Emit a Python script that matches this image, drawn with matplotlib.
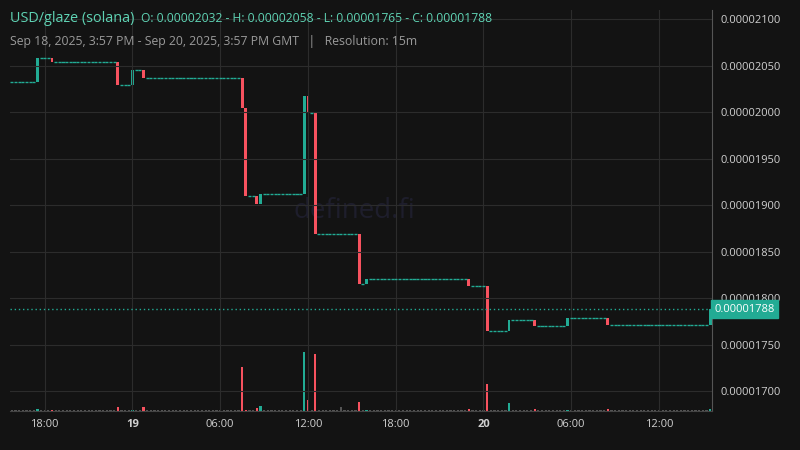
import matplotlib
matplotlib.use("Agg")
import matplotlib.pyplot as plt

plt.rcParams['font.family'] = ['Open Sans', 'DejaVu Sans']

N = 192
start_price = 2032e-8
# change events: candle index, open, close (other candles are flat at previous close)
ev_idx   = [7, 11, 29, 33, 36, 63, 64, 67, 68, 80, 81, 83, 95, 97, 125, 130, 136, 143, 152, 163, 191]
ev_open  = [2032, 2058, 2054, 2029, 2045, 2037, 2004, 1910, 1901, 1912, 2017, 1999, 1869, 1815, 1820, 1813, 1765, 1776, 1770, 1778, 1771]
ev_close = [2058, 2054, 2029, 2045, 2037, 2004, 1910, 1901, 1912, 2017, 1999, 1869, 1815, 1820, 1813, 1765, 1776, 1770, 1778, 1771, 1788]
vol_idx = [7, 29, 36, 63, 67, 68, 80, 81, 83, 90, 95, 125, 130, 136, 143, 163, 191]
vol_val = [3, 6, 6, 75, 5, 8, 100, 18, 97, 6, 15, 4, 45, 13, 3, 3, 3]
xtick_idx = [9, 33, 57, 81, 105, 129, 153, 177]
xtick_lab = ["18:00", "19", "06:00", "12:00", "18:00", "20", "06:00", "12:00"]
ytick_vals = [1700, 1750, 1800, 1850, 1900, 1950, 2000, 2050, 2100]

BG = "#131313"
UP = "#22ab94"; DN = "#f7525f"

opens, closes = [], []
p = start_price / 1e-8
ev = dict(zip(ev_idx, zip(ev_open, ev_close)))
for i in range(N):
    if i in ev:
        o, c = ev[i]
    else:
        o, c = p, p
    opens.append(o); closes.append(c); p = c
vols = [1.0] * N
for i, v in zip(vol_idx, vol_val):
    vols[i] = v

fig = plt.figure(figsize=(8, 4.5), dpi=100, facecolor=BG)
ax = fig.add_axes([10/800, 39/450, 702/800, 401/450], facecolor=BG)
axv = ax.twinx()
axv.set_zorder(0); ax.set_zorder(1); ax.patch.set_alpha(0)
axv.set_facecolor(BG)

s = 1e-8
for i in range(N):
    o, c = opens[i] * s, closes[i] * s
    col = UP if c >= o else DN
    if o == c:
        ax.hlines(o, i - 0.42, i + 0.42, color=UP, lw=1)
    else:
        ax.bar(i, c - o, bottom=o, width=0.75, color=col, lw=0)
for i in range(N):
    col = UP if closes[i] >= opens[i] else DN
    if closes[i] == opens[i]:
        col = "#555555"
    axv.bar(i, vols[i], width=0.6, color=col, lw=0)

ax.set_xlim(-0.5, 191.5)
ax.set_ylim(1678.5e-8, 2109.7e-8)
axv.set_ylim(0, 100 * 401 / 59)
axv.set_yticks([])
ax.set_xticks(xtick_idx)
ax.set_xticklabels(xtick_lab)
for t, l in zip(ax.get_xticklabels(), xtick_lab):
    t.set_fontweight("bold" if len(l) == 2 else "normal")
ax.yaxis.tick_right()
ax.set_yticks([v * s for v in ytick_vals])
ax.set_yticklabels([f"{v*s:.8f}" for v in ytick_vals])
ax.tick_params(colors="#d0d0d0", labelsize=8, length=0, pad=6)
ax.grid(color="#2c2c2c", lw=0.8)
axv.grid(False)
for a in (ax, axv):
    for sp in a.spines.values():
        sp.set_visible(False)
ax.spines["right"].set_visible(True); ax.spines["right"].set_color("#555555")
ax.spines["bottom"].set_visible(True); ax.spines["bottom"].set_color("#444444")

last = closes[-1] * s
ax.axhline(last, color=UP, ls=(0, (1, 2)), lw=1)
ax.text(1.003, last, f"{last:.8f}", transform=ax.get_yaxis_transform(), va="center", ha="left",
        fontsize=8, color="white", bbox=dict(boxstyle="square,pad=0.3", fc=UP, ec=UP))

ax.text(0.49, 0.5, "defined.fi", transform=ax.transAxes, ha="center", va="center",
        fontsize=20, color="#1e1e2c", zorder=0)
fig.text(10/800, 1 - 19/450, "USD/glaze (solana)", color="#5fd3b4", fontsize=10.4, va="center")
fig.text(141/800, 1 - 19/450, "O: 0.00002032 - H: 0.00002058 - L: 0.00001765 - C: 0.00001788",
         color="#5fd3b4", fontsize=8.7, va="center")
fig.text(10/800, 1 - 41/450, "Sep 18, 2025, 3:57 PM - Sep 20, 2025, 3:57 PM GMT   |   Resolution: 15m",
         color="#9a9a9a", fontsize=8.8, va="center")
fig.savefig("out.png", dpi=100, facecolor=BG)
